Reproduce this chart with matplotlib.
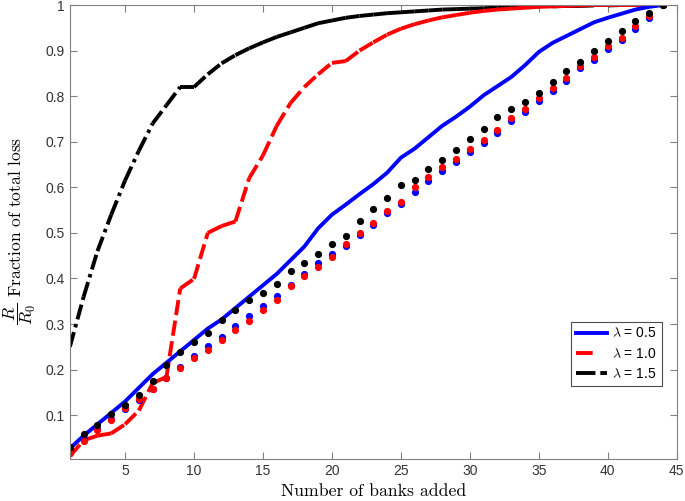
import numpy as np
import matplotlib.pyplot as plt

plt.rcParams['font.family'] = ['Liberation Sans', 'DejaVu Sans']
plt.rcParams['mathtext.fontset'] = 'cm'
plt.rcParams['lines.scale_dashes'] = False

# number of banks added
banks = np.arange(1, 45)

# fraction of total loss, lines
loss_05 = [0.027, 0.055, 0.08, 0.105, 0.13, 0.16, 0.19, 0.215, 0.24, 0.265,
           0.29, 0.31, 0.335, 0.36, 0.385, 0.41, 0.44, 0.47, 0.51, 0.54,
           0.562, 0.585, 0.607, 0.632, 0.665, 0.685, 0.71, 0.735, 0.755, 0.777,
           0.802, 0.822, 0.842, 0.868, 0.897, 0.917, 0.932, 0.947, 0.962, 0.972,
           0.981, 0.99, 0.996, 1.0]
loss_10 = [0.01, 0.045, 0.055, 0.06, 0.08, 0.11, 0.17, 0.184, 0.378, 0.399,
           0.5, 0.515, 0.525, 0.62, 0.67, 0.735, 0.785, 0.82, 0.848, 0.873,
           0.877, 0.9, 0.918, 0.935, 0.948, 0.958, 0.966, 0.973, 0.978, 0.983,
           0.987, 0.99, 0.992, 0.994, 0.996, 0.997, 0.998, 0.999, 1.0, 1.0,
           1.0, 1.0, 1.0, 1.0]
loss_15 = [0.25, 0.36, 0.46, 0.54, 0.615, 0.68, 0.74, 0.78, 0.82, 0.82,
           0.848, 0.872, 0.89, 0.905, 0.918, 0.93, 0.94, 0.95, 0.96, 0.966,
           0.972, 0.976, 0.979, 0.982, 0.984, 0.986, 0.988, 0.99, 0.991, 0.992,
           0.993, 0.994, 0.995, 0.996, 0.997, 0.997, 0.998, 0.998, 0.999, 0.999,
           1.0, 1.0, 1.0, 1.0]

# dotted series
dots_05 = [0.024, 0.047, 0.069, 0.092, 0.113, 0.134, 0.157, 0.181, 0.206, 0.229,
           0.251, 0.272, 0.295, 0.317, 0.34, 0.362, 0.386, 0.409, 0.433, 0.453,
           0.472, 0.495, 0.518, 0.543, 0.563, 0.589, 0.613, 0.635, 0.655, 0.678,
           0.698, 0.72, 0.745, 0.766, 0.79, 0.812, 0.834, 0.861, 0.88, 0.904,
           0.923, 0.948, 0.971, 1.0]
dots_10 = [0.016, 0.043, 0.067, 0.09, 0.115, 0.136, 0.158, 0.181, 0.204, 0.226,
           0.244, 0.266, 0.286, 0.307, 0.33, 0.353, 0.384, 0.405, 0.426, 0.447,
           0.475, 0.499, 0.522, 0.547, 0.567, 0.6, 0.622, 0.644, 0.662, 0.683,
           0.703, 0.725, 0.751, 0.771, 0.795, 0.817, 0.839, 0.866, 0.885, 0.909,
           0.928, 0.953, 0.976, 1.0]
dots_15 = [0.031, 0.058, 0.078, 0.102, 0.122, 0.144, 0.175, 0.211, 0.238, 0.26,
           0.28, 0.308, 0.331, 0.352, 0.368, 0.388, 0.416, 0.433, 0.453, 0.476,
           0.494, 0.525, 0.553, 0.576, 0.604, 0.617, 0.64, 0.661, 0.681, 0.707,
           0.729, 0.754, 0.771, 0.788, 0.808, 0.832, 0.855, 0.876, 0.898, 0.92,
           0.944, 0.965, 0.983, 1.0]

labels = [r'$\lambda$ = 0.5', r'$\lambda$ = 1.0', r'$\lambda$ = 1.5']

red_dash = (0, (11, 4))
black_dashdot = (0, (11, 3.5, 2.5, 3.5))


# draw a line segment by segment so the dash pattern restarts at each point
def seg_plot(ax, x, y, color, ls, lw):
    for i in range(len(x) - 1):
        ax.plot(x[i:i + 2], y[i:i + 2], color=color, linestyle=ls,
                linewidth=lw, solid_capstyle='butt', dash_capstyle='butt')


fig = plt.figure(figsize=(6.85, 5.01), dpi=100)
ax = fig.add_axes([0.102, 0.084, 0.886, 0.906])

lw = 2.8
seg_plot(ax, banks, loss_15, 'black', black_dashdot, lw)
seg_plot(ax, banks, loss_10, 'red', red_dash, lw)
ax.plot(banks, loss_05, color='blue', linewidth=lw)

ms = 5.2
ax.plot(banks, dots_05, 'o', color='blue', markersize=ms, markeredgewidth=0)
ax.plot(banks, dots_10, 'o', color='red', markersize=ms, markeredgewidth=0)
ax.plot(banks, dots_15, 'o', color='black', markersize=ms, markeredgewidth=0)

# legend proxies
h1, = ax.plot([], [], color='blue', linewidth=lw)
h2, = ax.plot([], [], color='red', linestyle=(0, (12, 20)), linewidth=lw)
h3, = ax.plot([], [], color='black', linestyle=(0, (14, 3.5, 5, 10)), linewidth=lw)
leg = ax.legend([h1, h2, h3], labels, loc='lower right',
                bbox_to_anchor=(0.975, 0.161), borderaxespad=0, fontsize=10,
                handlelength=2.2, handletextpad=0.4, labelspacing=0.45,
                borderpad=0.35, fancybox=False, framealpha=1)
leg.get_frame().set_edgecolor('0.3')
leg.get_frame().set_linewidth(0.8)

ax.set_xlim(1, 45)
ax.set_ylim(0.004, 1)
ax.set_xticks([5, 10, 15, 20, 25, 30, 35, 40, 45])
ax.set_yticks([0.1, 0.2, 0.3, 0.4, 0.5, 0.6, 0.7, 0.8, 0.9, 1])
ax.set_yticklabels(['0.1', '0.2', '0.3', '0.4', '0.5', '0.6', '0.7', '0.8', '0.9', '1'])
ax.tick_params(direction='in', top=True, right=True, length=5, width=0.8,
               color='0.5', labelcolor='0.2', labelsize=10)
for s in ax.spines.values():
    s.set_color('0.5')
    s.set_linewidth(0.8)

ax.set_xlabel('Number of banks added', fontfamily='cmr10', fontsize=12.7)
ax.xaxis.set_label_coords(0.5, -0.055)
ax.set_ylabel(r'$\dfrac{R}{R_0}$ Fraction of total loss', fontfamily='cmr10', fontsize=12.5)
ax.yaxis.set_label_coords(-0.052, 0.502)

fig.savefig('out.png', dpi=100)
